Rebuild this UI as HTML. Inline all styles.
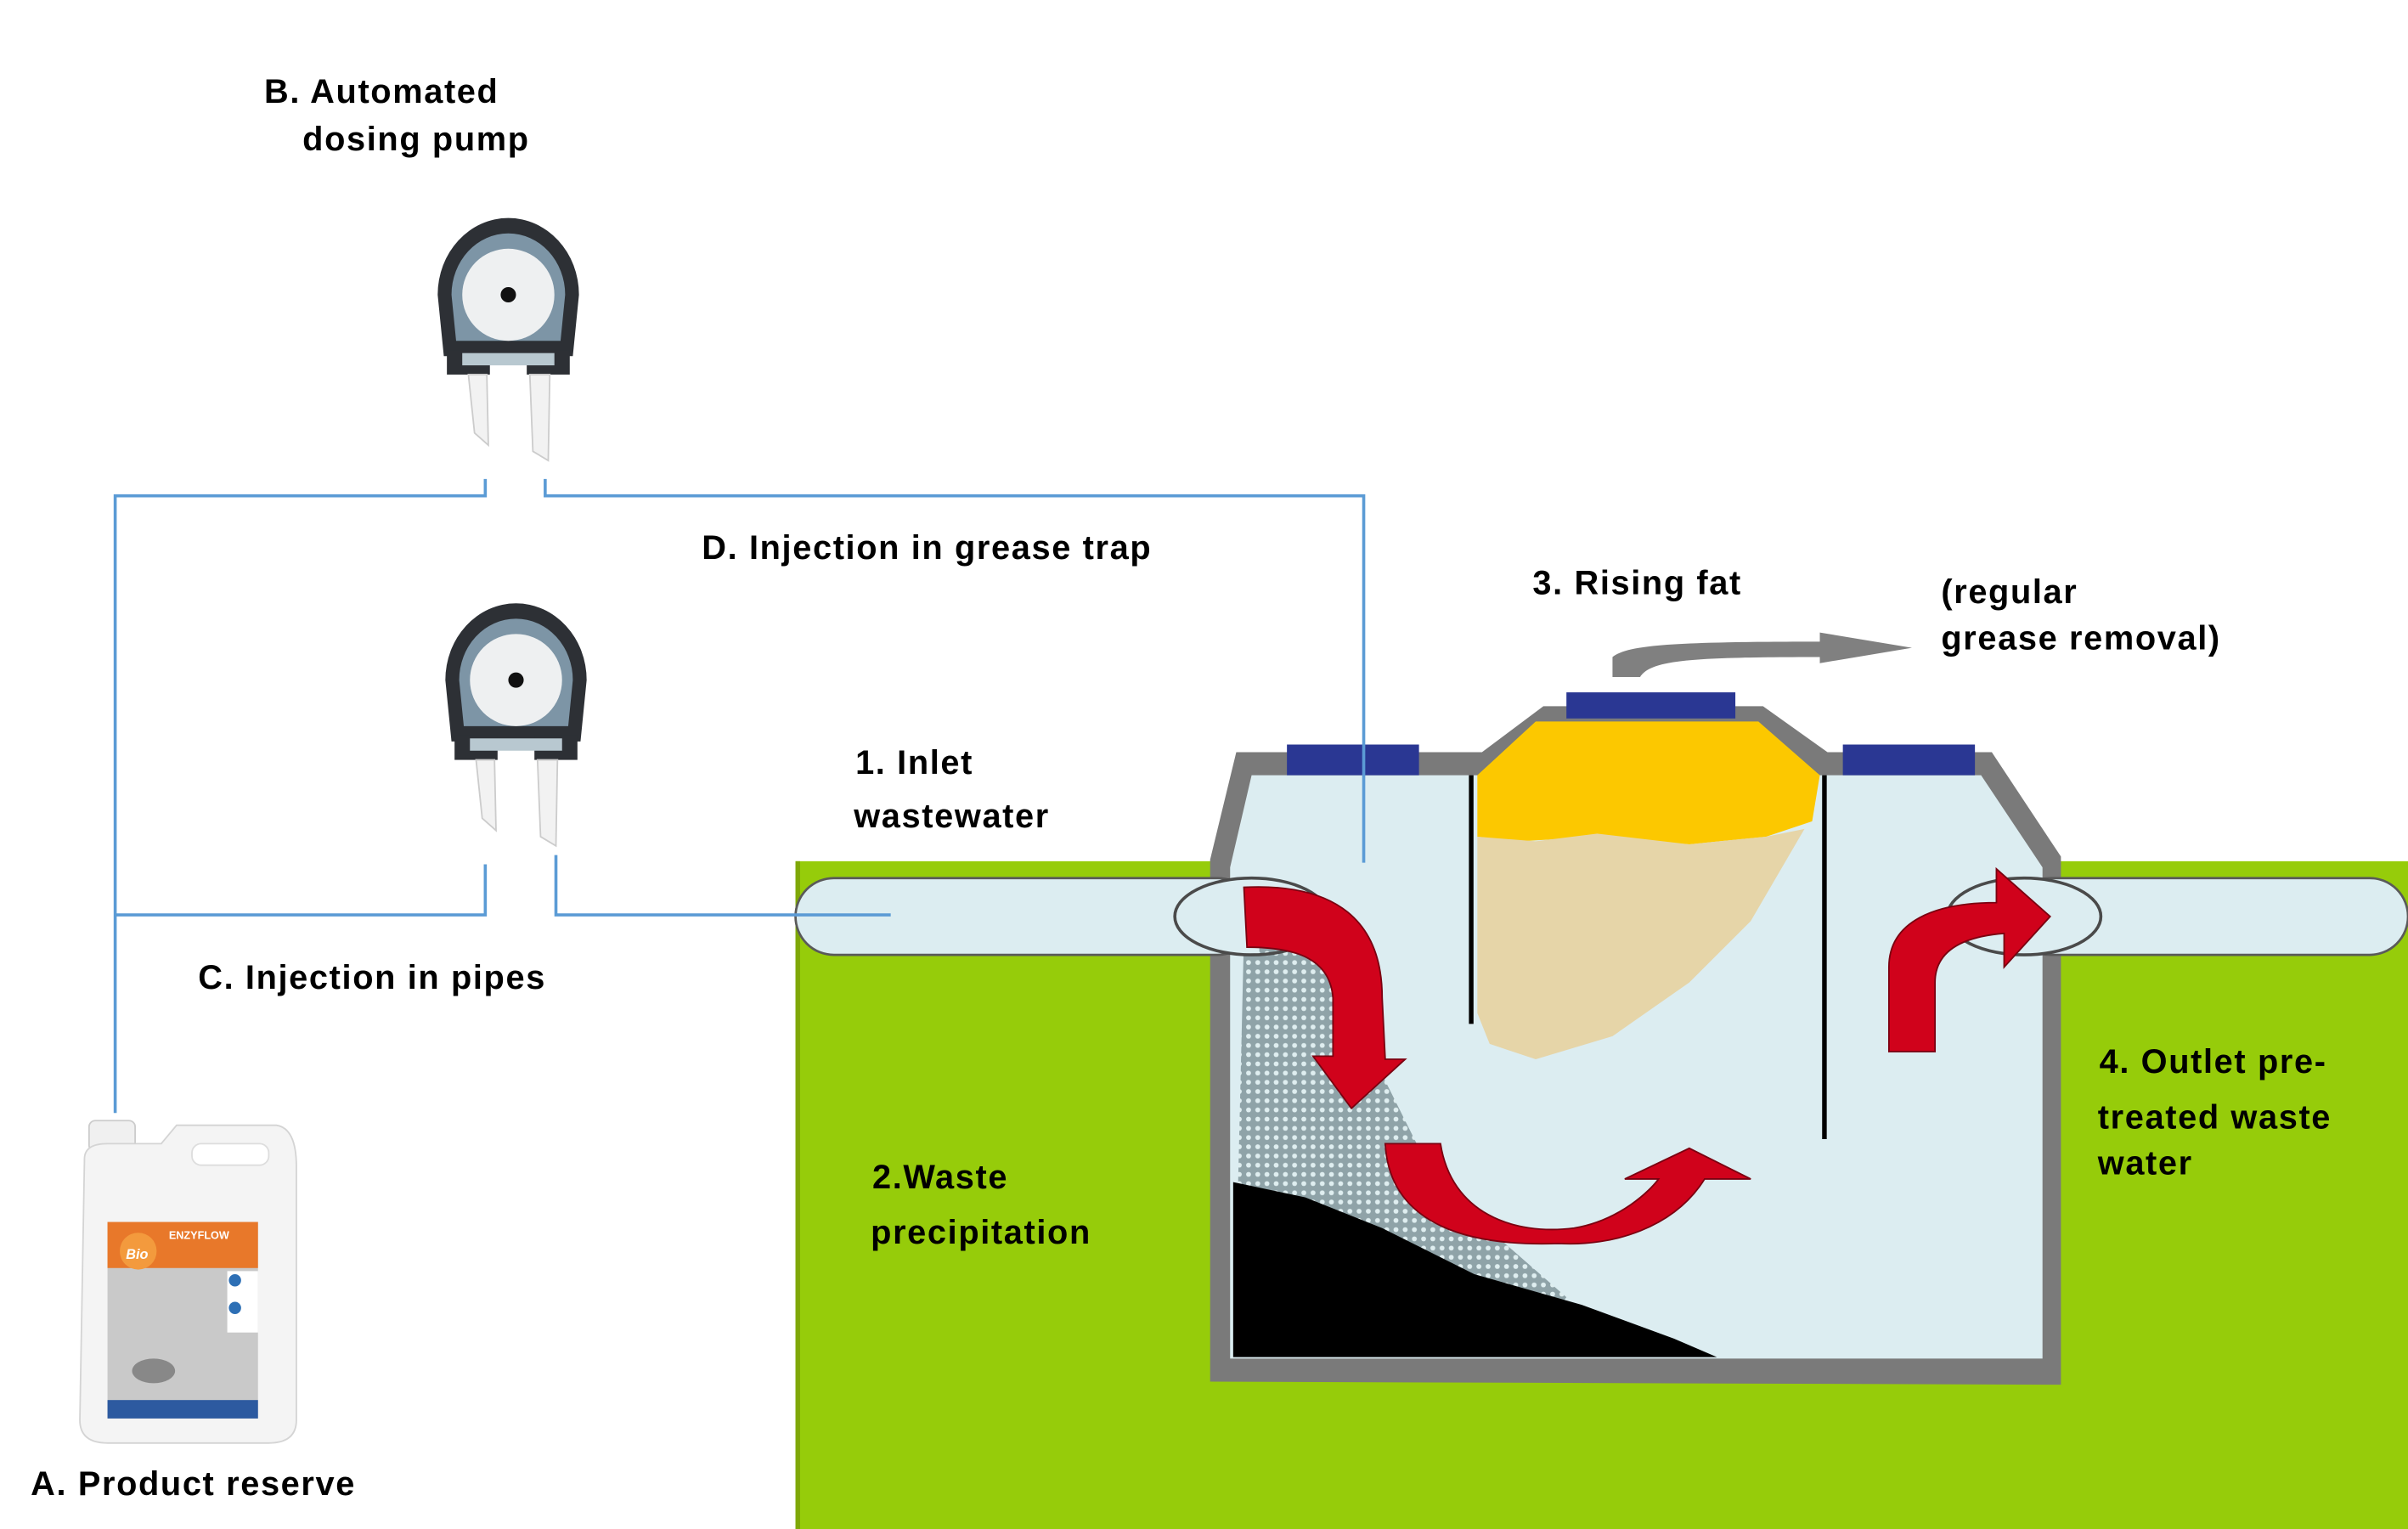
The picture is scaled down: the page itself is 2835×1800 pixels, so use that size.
<!DOCTYPE html>
<html><head><meta charset="utf-8"><style>
html,body{margin:0;padding:0;background:#fff;}
svg{display:block}
text{font-family:"Liberation Sans",sans-serif;font-weight:bold;font-size:22px;fill:#000;letter-spacing:0.9px}
</style></head><body>
<svg width="2835" height="1800" viewBox="0 0 1568 996" preserveAspectRatio="none" xmlns="http://www.w3.org/2000/svg">
<defs>
<pattern id="dots" width="6" height="6" patternUnits="userSpaceOnUse">
<rect width="6" height="6" fill="#8fa3a8"/><circle cx="3" cy="3" r="1.6" fill="#dfeef0"/>
</pattern>
<g id="pump">
<path d="M-42,40 L-46,0 A46,50 0 0 1 46,0 L42,40 Z" fill="#2d3035"/>
<path d="M-34,30 L-37,0 A37,40 0 0 1 37,0 L34,30 Z" fill="#7d95a6"/>
<circle cx="0" cy="0" r="30" fill="#eef0f1"/>
<circle cx="0" cy="0" r="5" fill="#111"/>
<rect x="-40" y="36" width="28" height="16" fill="#2d3035"/>
<rect x="12" y="36" width="28" height="16" fill="#2d3035"/>
<rect x="-30" y="38" width="60" height="8" fill="#b8c8d0"/>
<path d="M-26,52 L-14,52 L-13,98 L-22,90 Z" fill="#f2f2f2" stroke="#ccc"/>
<path d="M14,52 L27,52 L26,108 L16,102 Z" fill="#f2f2f2" stroke="#ccc"/>
</g>
</defs>
<rect x="518" y="561" width="1050" height="435" fill="#96cc0a"/>
<rect x="518" y="561" width="3" height="435" fill="#7fa808"/>
<path d="M788,900 L788,560 L805,490 L965,490 L1005,460 L1148,460 L1190,490 L1297,490 L1342,558 L1342,902 Z" fill="#7a7a7a"/>
<path d="M801,885 L801,565 L815,505 L965,505 L1000,475 L1145,475 L1185,505 L1290,505 L1330,565 L1330,885 Z" fill="#dcedf1"/>
<path d="M962,505 L1000,470 L1145,470 L1185,505 L1180,535 L1150,545 L1100,550 L1040,545 L990,548 L962,545 Z" fill="#fcc800"/>
<path d="M962,545 L1000,548 L1040,543 L1100,550 L1150,545 L1175,540 L1140,600 L1100,640 L1050,675 L1000,690 L970,680 L962,660 Z" fill="#e6d5a8"/>
<rect x="838" y="485" width="86" height="20" fill="#2a3793"/>
<rect x="1020" y="451" width="110" height="17" fill="#2a3793"/>
<rect x="1200" y="485" width="86" height="20" fill="#2a3793"/>
<line x1="958" y1="505" x2="958" y2="667" stroke="#000" stroke-width="3"/>
<line x1="1188" y1="505" x2="1188" y2="742" stroke="#000" stroke-width="3"/>
<path d="M810,610 L850,595 L880,640 L900,700 L930,760 L980,810 L1020,845 L1000,870 L900,830 L806,780 Z" fill="url(#dots)"/>
<path d="M803,770 L850,780 L900,800 L960,830 L1030,850 L1090,872 L1118,884 L803,884 Z" fill="#000"/>
<rect x="518" y="572" width="300" height="50" rx="25" fill="#dcedf1" stroke="#5a5a5a" stroke-width="1.5"/>
<rect x="780" y="573" width="40" height="48" fill="#dcedf1"/>
<ellipse cx="815" cy="597" rx="50" ry="25" fill="none" stroke="#4a4a4a" stroke-width="2"/>
<rect x="1310" y="572" width="258" height="50" rx="25" fill="#dcedf1" stroke="#5a5a5a" stroke-width="1.5"/>
<rect x="1300" y="573" width="50" height="48" fill="#dcedf1"/>
<ellipse cx="1318" cy="597" rx="50" ry="25" fill="none" stroke="#4a4a4a" stroke-width="2"/>
<path d="M810,578 C870,575 900,600 900,650 L902,690 L915,690 L880,722 L855,688 L868,688 L868,650 C866,625 845,617 812,617 Z" fill="#d0021b" stroke="#7a0010" stroke-width="1"/>
<path d="M902,745 L938,745 C945,790 985,805 1025,800 C1055,795 1075,775 1080,768 L1058,768 L1100,748 L1140,768 L1110,768 C1090,800 1050,812 1015,810 C960,812 905,800 902,745 Z" fill="#d0021b" stroke="#7a0010" stroke-width="1"/>
<path d="M1230,685 L1230,630 C1230,600 1260,588 1300,588 L1300,566 L1335,597 L1305,630 L1305,608 C1280,610 1260,618 1260,640 L1260,685 Z" fill="#d0021b" stroke="#7a0010" stroke-width="1"/>
<path d="M1050,441 L1050,428 C1060,420 1090,418 1185,418 L1185,412 L1245,422 L1185,432 L1185,428 C1100,428 1075,430 1068,441 Z" fill="#808080"/>
<g stroke="#5b9bd5" stroke-width="2" fill="none">
<path d="M75,725 L75,323 L316,323 L316,312"/>
<path d="M355,312 L355,323 L888,323 L888,562"/>
<path d="M75,596 L316,596 L316,563"/>
<path d="M362,557 L362,596 L580,596"/>
</g>
<use href="#pump" x="331" y="192"/>
<use href="#pump" x="336" y="443"/>
<rect x="58" y="730" width="30" height="20" rx="4" fill="#f0f0f0" stroke="#ccc"/>
<path d="M55,755 Q55,745 70,745 L105,745 L115,733 L180,733 Q193,735 193,760 L193,925 Q193,940 175,940 L70,940 Q52,940 52,925 Z" fill="#f4f4f4" stroke="#d4d4d4"/>
<rect x="125" y="745" width="50" height="14" rx="6" fill="#fff" stroke="#ddd"/>
<rect x="70" y="796" width="98" height="128" fill="#c9c9c9"/>
<rect x="70" y="796" width="98" height="30" fill="#e8782a"/>
<circle cx="90" cy="815" r="12" fill="#f39a3d"/>
<rect x="70" y="912" width="98" height="12" fill="#2d5aa0"/>
<rect x="148" y="828" width="20" height="40" fill="#fff"/>
<circle cx="153" cy="834" r="4" fill="#2d6fb5"/><circle cx="153" cy="852" r="4" fill="#2d6fb5"/>
<ellipse cx="100" cy="893" rx="14" ry="8" fill="#888"/>
<text x="110" y="807" style="font-size:7px;fill:#fff;letter-spacing:0">ENZYFLOW</text>
<text x="82" y="820" style="font-size:9px;fill:#fff;font-style:italic;letter-spacing:0">Bio</text>
<text x="172" y="67">B. Automated</text>
<text x="197" y="98">dosing pump</text>
<text x="457" y="364">D. Injection in grease trap</text>
<text x="129" y="644">C. Injection in pipes</text>
<text x="20" y="974">A. Product reserve</text>
<text x="557" y="504">1. Inlet</text>
<text x="556" y="539">wastewater</text>
<text x="568" y="774">2.Waste</text>
<text x="567" y="810">precipitation</text>
<text x="998" y="387">3. Rising fat</text>
<text x="1264" y="393">(regular</text>
<text x="1264" y="423">grease removal)</text>
<text x="1367" y="699">4. Outlet pre-</text>
<text x="1366" y="735">treated waste</text>
<text x="1366" y="765">water</text>
</svg>
</body></html>
